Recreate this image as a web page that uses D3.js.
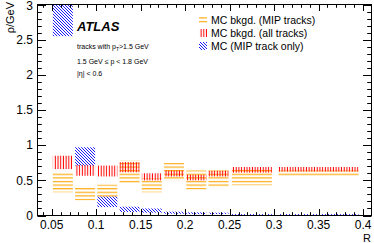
<!DOCTYPE html>
<html><head><meta charset="utf-8">
<script src="https://cdn.jsdelivr.net/npm/d3@7"></script>
<style>body{margin:0;background:#fff}svg{display:block}text{font-family:"Liberation Sans",Arial,sans-serif}</style>
</head><body><svg id="c" width="374" height="243"></svg>
<script>
const edges = [0.05,0.075,0.1,0.125,0.15,0.175,0.2,0.225,0.25,0.3,0.4];
const mipLo = [0.33,0.215,0.26,0.46,0.33,0.49,0.37,0.40,0.43,0.555];
const mipHi = [0.62,0.41,0.44,0.78,0.53,0.75,0.64,0.64,0.65,0.64];
const allLo = [0.66,0.565,0.555,0.615,0.50,0.555,0.50,0.555,0.61,0.625];
const allHi = [0.85,0.72,0.71,0.76,0.60,0.64,0.58,0.635,0.69,0.69];
const mcLo  = [2.55,0.71,0.12,0.05,0.04,0.025,0.02,0.02,0.005,0.005];
const mcHi  = [3.2,0.97,0.27,0.125,0.10,0.055,0.045,0.04,0.02,0.02];
const xTicks = [0.05,0.1,0.15,0.2,0.25,0.3,0.35,0.4];
const yTicks = [0,0.5,1,1.5,2,2.5,3];
const legendLabels = ["MC bkgd. (MIP tracks)","MC bkgd. (all tracks)","MC (MIP track only)"];

const svg = d3.select("#c");
const L=37.5, R=371.5, T=4.5, B=215.5;
const x = d3.scaleLinear().domain([0.034,0.4095]).range([L,R]);
const y = d3.scaleLinear().domain([0,3]).range([B,T]);

const defs = svg.append("defs");
function pat(id, w, h, draw){
  const p = defs.append("pattern").attr("id",id).attr("patternUnits","userSpaceOnUse").attr("width",w).attr("height",h);
  draw(p); return p;
}
pat("hOr",10,3.6,p=>p.append("rect").attr("x",0).attr("y",1).attr("width",10).attr("height",1.1).attr("fill","#ffa500"));
pat("vRd",2.7,10,p=>p.append("rect").attr("x",0.8).attr("y",0).attr("width",1).attr("height",10).attr("fill","#ff0000"));
pat("dBl",3,3,p=>{
  p.append("path").attr("d","M0,0L3,3M-1,2L1,4M2,-1L4,1").attr("stroke","#0000ff").attr("stroke-width",0.9);
});
defs.append("clipPath").attr("id","plot").append("rect").attr("x",L).attr("y",T).attr("width",R-L).attr("height",B-T);

const bins = d3.range(edges.length-1).map(i=>({lo:edges[i],hi:edges[i+1],i}));
function boxes(cls, fill, lo, hi){
  svg.append("g").attr("clip-path","url(#plot)").selectAll("rect."+cls).data(bins).join("rect")
    .attr("class",cls)
    .attr("x",d=>x(d.lo+0.05*(d.hi-d.lo)))
    .attr("width",d=>x(d.hi)-x(d.lo)-2*0.05*(x(d.hi)-x(d.lo)))
    .attr("y",d=>y(hi[d.i]))
    .attr("height",d=>y(lo[d.i])-y(hi[d.i]))
    .attr("fill",fill);
}
boxes("mip","url(#hOr)",mipLo,mipHi);
boxes("all","url(#vRd)",allLo,allHi);
boxes("mc","url(#dBl)",mcLo,mcHi);

// frame
svg.append("rect").attr("x",L).attr("y",T).attr("width",R-L).attr("height",B-T).attr("fill","none").attr("stroke","#000").attr("stroke-width",1);

// ticks
const g = svg.append("g").attr("stroke","#000").attr("stroke-width",1);
const xMinor = d3.range(0.04,0.41,0.01).map(v=>+v.toFixed(3));
xMinor.forEach(v=>{
  const isMaj = xTicks.some(t=>Math.abs(t-v)<1e-6);
  const len = isMaj?6.5:3.3;
  const px = Math.round(x(v))+0.5;
  g.append("line").attr("x1",px).attr("x2",px).attr("y1",B).attr("y2",B-len);
  g.append("line").attr("x1",px).attr("x2",px).attr("y1",T).attr("y2",T+len);
});
const yMinor = d3.range(0,3.01,0.1).map(v=>+v.toFixed(2));
yMinor.forEach(v=>{
  const isMaj = yTicks.some(t=>Math.abs(t-v)<1e-6);
  const len = isMaj?8.5:4.3;
  const py = Math.round(y(v))+0.5;
  g.append("line").attr("x1",L).attr("x2",L+len).attr("y1",py).attr("y2",py);
  g.append("line").attr("x1",R).attr("x2",R-len).attr("y1",py).attr("y2",py);
});

// tick labels
svg.append("g").selectAll("text").data(xTicks).join("text")
  .attr("x",d=>x(d)).attr("y",228.5).attr("text-anchor","middle").attr("font-size",12).text(d=>d3.format("")(d));
svg.append("g").selectAll("text").data(yTicks).join("text")
  .attr("x",33).attr("y",d=>Math.max(y(d)+4.3,9.6)).attr("text-anchor","end").attr("font-size",12).text(d=>d3.format("")(d));

svg.append("text").attr("x",371).attr("y",242).attr("text-anchor","end").attr("font-size",11).text("R");
svg.append("text").attr("transform","translate(14,2) rotate(-90)").attr("text-anchor","end").attr("font-size",11).text("ρ/GeV");

// ATLAS label
svg.append("text").attr("x",77).attr("y",30.5).attr("font-size",13).attr("font-weight","bold").attr("font-style","italic").text("ATLAS");
const t1 = svg.append("text").attr("x",77).attr("y",49).attr("font-size",7);
t1.append("tspan").text("tracks with p");
t1.append("tspan").attr("font-size",5).attr("dy",1.5).text("T");
t1.append("tspan").attr("dy",-1.5).text(">1.5 GeV");
svg.append("text").attr("x",77).attr("y",64).attr("font-size",7).text("1.5 GeV ≤ p < 1.8 GeV");
svg.append("text").attr("x",77).attr("y",76).attr("font-size",7).text("|η| < 0.6");

// legend
const fills = ["url(#hOr)","url(#vRd)","url(#dBl)"];
const lg = svg.append("g").selectAll("g").data(legendLabels).join("g")
  .attr("transform",(d,i)=>`translate(0,${20+i*13})`);
lg.append("rect").attr("x",199).attr("y",-4).attr("width",8).attr("height",8).attr("fill",(d,i)=>fills[i]);
lg.append("text").attr("x",211).attr("y",3.8).attr("font-size",10.5).text(d=>d);
</script></body></html>
